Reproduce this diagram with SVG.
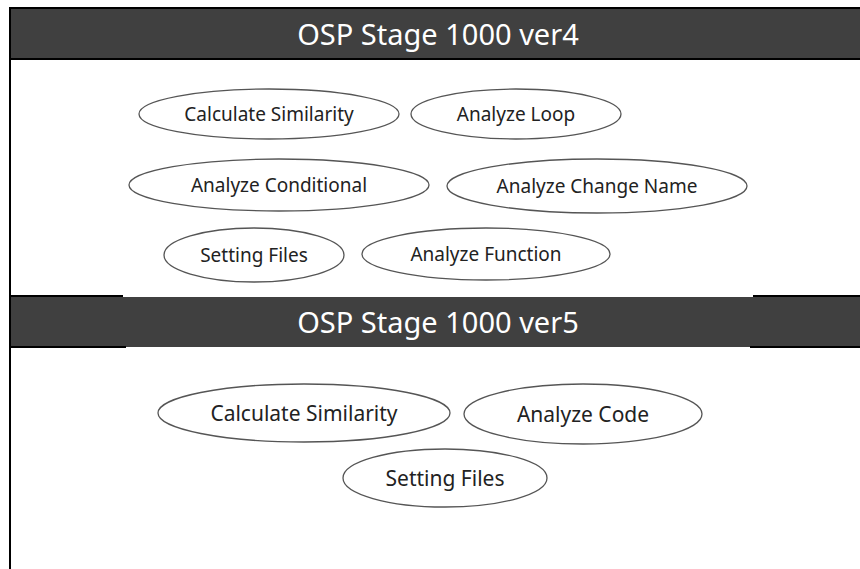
<svg xmlns="http://www.w3.org/2000/svg" width="860" height="569" viewBox="0 0 860 569">
<style>
.hdr{fill:#404040;}
.ttl{font-family:"Noto Sans","Noto Sans CJK KR",sans-serif;font-size:29px;fill:#ffffff;text-anchor:middle;}
.el{fill:#ffffff;stroke:#555555;stroke-width:1.3;}
.t1{font-family:"Noto Sans","Noto Sans CJK KR",sans-serif;font-size:19px;fill:#222222;text-anchor:middle;}
.t2{font-family:"Noto Sans","Noto Sans CJK KR",sans-serif;font-size:21px;fill:#222222;text-anchor:middle;}
.bd{stroke:#000000;stroke-width:2;fill:none;}
</style>
<rect width="860" height="569" fill="#ffffff"/>
<g id="frame-ver4">
<rect class="hdr" x="10" y="8" width="850" height="51"/>
<line class="bd" x1="10" y1="8" x2="860" y2="8"/>
<line class="bd" x1="10" y1="59" x2="860" y2="59"/>
<text class="ttl" x="438" y="45">OSP Stage 1000 ver4</text>
</g>
<g id="frame-ver5">
<rect class="hdr" x="10" y="297" width="850" height="50"/>
<line class="bd" x1="10" y1="296" x2="123" y2="296"/>
<line class="bd" x1="753" y1="296" x2="860" y2="296"/>
<line class="bd" x1="10" y1="347" x2="126" y2="347"/>
<line class="bd" x1="750" y1="347" x2="860" y2="347"/>
<text class="ttl" x="438" y="333">OSP Stage 1000 ver5</text>
</g>
<line class="bd" x1="10" y1="7" x2="10" y2="569"/>
<g id="connectors"></g>
<g id="v4-calc"><ellipse class="el" cx="269" cy="114" rx="130" ry="25"/><text class="t1" x="269" y="121">Calculate Similarity</text></g>
<g id="v4-loop"><ellipse class="el" cx="516" cy="114" rx="105" ry="25"/><text class="t1" x="516" y="121">Analyze Loop</text></g>
<g id="v4-cond"><ellipse class="el" cx="279" cy="185" rx="150" ry="26"/><text class="t1" x="279" y="192">Analyze Conditional</text></g>
<g id="v4-name"><ellipse class="el" cx="597" cy="186" rx="150" ry="27"/><text class="t1" x="597" y="193">Analyze Change Name</text></g>
<g id="v4-setting"><ellipse class="el" cx="254" cy="255" rx="90" ry="27"/><text class="t1" x="254" y="262">Setting Files</text></g>
<g id="v4-func"><ellipse class="el" cx="486" cy="254" rx="124" ry="26"/><text class="t1" x="486" y="261">Analyze Function</text></g>
<g id="v5-calc"><ellipse class="el" cx="304" cy="413" rx="146" ry="29"/><text class="t2" x="304" y="421">Calculate Similarity</text></g>
<g id="v5-code"><ellipse class="el" cx="583" cy="414" rx="119" ry="30"/><text class="t2" x="583" y="422">Analyze Code</text></g>
<g id="v5-setting"><ellipse class="el" cx="445" cy="478" rx="102" ry="29"/><text class="t2" x="445" y="486">Setting Files</text></g>
</svg>
